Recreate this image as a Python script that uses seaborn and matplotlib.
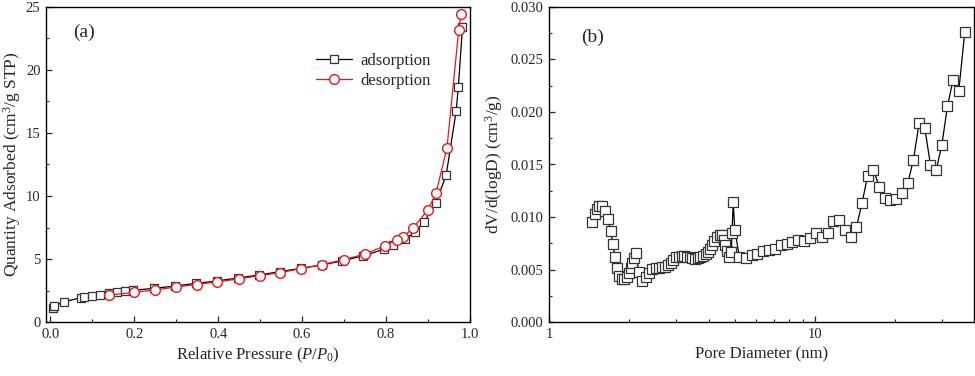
import numpy as np
import pandas as pd
import matplotlib
matplotlib.use("Agg")
import matplotlib.pyplot as plt
import seaborn as sns
from matplotlib.ticker import MultipleLocator, LogLocator, NullFormatter, FormatStrFormatter

# (a) N2 isotherm
p_ads = [0.006, 0.010, 0.034, 0.074, 0.080, 0.099, 0.118, 0.139, 0.159, 0.178, 0.198,
         0.247, 0.298, 0.348, 0.398, 0.448, 0.497, 0.547, 0.597, 0.647, 0.696, 0.744,
         0.795, 0.816, 0.845, 0.869, 0.891, 0.918, 0.943, 0.967, 0.972, 0.982]
q_ads = [1.11, 1.27, 1.62, 1.93, 1.96, 2.09, 2.17, 2.28, 2.36, 2.44, 2.52,
         2.67, 2.86, 3.07, 3.26, 3.50, 3.73, 4.00, 4.26, 4.53, 4.85, 5.24,
         5.77, 6.08, 6.57, 7.12, 7.97, 9.43, 11.63, 16.76, 18.62, 23.41]

p_des = [0.979, 0.973, 0.945, 0.919, 0.900, 0.865, 0.840, 0.825, 0.798, 0.750, 0.699,
         0.648, 0.598, 0.548, 0.499, 0.449, 0.398, 0.349, 0.300, 0.249, 0.200, 0.139]
q_des = [24.44, 23.15, 13.82, 10.22, 8.92, 7.49, 6.75, 6.51, 6.06, 5.40, 4.95,
         4.56, 4.24, 3.92, 3.68, 3.42, 3.18, 2.97, 2.78, 2.54, 2.36, 2.12]

# (b) pore size distribution
pore_d = [1.451, 1.489, 1.519, 1.546, 1.586, 1.628, 1.667, 1.705, 1.740, 1.771,
          1.806, 1.839, 1.876, 1.914, 1.959, 1.993, 2.029, 2.058, 2.089, 2.124,
          2.174, 2.243, 2.316, 2.384, 2.446, 2.518, 2.584, 2.652, 2.722, 2.793,
          2.867, 2.934, 3.002, 3.072, 3.153, 3.227, 3.302, 3.379, 3.458, 3.539,
          3.622, 3.706, 3.793, 3.881, 3.972, 4.042, 4.112, 4.183, 4.281, 4.381,
          4.483, 4.548, 4.601, 4.681, 4.735, 4.846, 4.880, 4.930, 5.000, 5.200,
          5.488, 5.780, 6.070, 6.380, 6.720, 7.070, 7.430, 7.830, 8.220, 8.660,
          9.090, 9.580, 10.09, 10.60, 11.16, 11.72, 12.31, 12.97, 13.62, 14.34,
          15.06, 15.78, 16.62, 17.46, 18.33, 19.25, 20.28, 21.30, 22.37, 23.49,
          24.68, 25.92, 27.22, 28.58, 30.02, 31.53, 33.11, 34.78, 36.64]
dv = [0.00957, 0.01026, 0.01077, 0.01109, 0.01109, 0.01058, 0.00982, 0.00868, 0.00740, 0.00617,
      0.00515, 0.00439, 0.00407, 0.00407, 0.00426, 0.00470, 0.00518, 0.00566, 0.00610, 0.00661,
      0.00474, 0.00394, 0.00432, 0.00464, 0.00505, 0.00515, 0.00518, 0.00521, 0.00528, 0.00543,
      0.00566, 0.00588, 0.00617, 0.00623, 0.00632, 0.00629, 0.00623, 0.00617, 0.00607, 0.00604,
      0.00613, 0.00620, 0.00629, 0.00645, 0.00670, 0.00699, 0.00734, 0.00775, 0.00807, 0.00829,
      0.00829, 0.00782, 0.00734, 0.00677, 0.00623, 0.00667, 0.00852, 0.01140, 0.00877, 0.00617,
      0.00607, 0.00636, 0.00651, 0.00677, 0.00686, 0.00699, 0.00731, 0.00744, 0.00760, 0.00782,
      0.00775, 0.00798, 0.00845, 0.00807, 0.00845, 0.00963, 0.00969, 0.00880, 0.00810, 0.00906,
      0.01138, 0.01386, 0.01449, 0.01290, 0.01185, 0.01163, 0.01173, 0.01233, 0.01322, 0.01545,
      0.01894, 0.01846, 0.01497, 0.01443, 0.01681, 0.02053, 0.02307, 0.02199, 0.02758]

sns.set_style("ticks")
plt.rcParams['font.family'] = ['Liberation Serif', 'DejaVu Serif']
plt.rcParams['mathtext.fontset'] = 'custom'
plt.rcParams['mathtext.rm'] = 'Liberation Serif'
plt.rcParams['mathtext.it'] = 'Liberation Serif:italic'
plt.rcParams['axes.linewidth'] = 1.0

fig = plt.figure(figsize=(9.75, 3.76), dpi=100)
ax1 = fig.add_axes([0.0472, 0.1436, 0.4349, 0.8378])
ax2 = fig.add_axes([0.5631, 0.1436, 0.4359, 0.8378])

sns.lineplot(x=p_ads, y=q_ads, ax=ax1, sort=False, estimator=None, color='black',
             linewidth=0.9, marker='s', markersize=6, markerfacecolor='white',
             markeredgecolor='#333333', markeredgewidth=0.9, label='adsorption')
sns.lineplot(x=p_des, y=q_des, ax=ax1, sort=False, estimator=None, color='#e8151b',
             linewidth=0.9, marker='o', markersize=7, markerfacecolor='white',
             markeredgecolor='#e8151b', markeredgewidth=1.0, label='desorption')

ax1.set_xlim(-0.01, 1.0)
ax1.set_ylim(0, 25)
ax1.xaxis.set_major_locator(MultipleLocator(0.2))
ax1.xaxis.set_minor_locator(MultipleLocator(0.1))
ax1.yaxis.set_major_locator(MultipleLocator(5))
ax1.yaxis.set_minor_locator(MultipleLocator(2.5))
ax1.xaxis.set_major_formatter(FormatStrFormatter('%.1f'))
ax1.set_xlabel('Relative Pressure ($P$/$P_0$)', fontsize=12)
ax1.set_ylabel('Quantity Adsorbed (cm$^3$/g STP)', fontsize=12.5, labelpad=2)
ax1.text(0.065, 0.905, '(a)', transform=ax1.transAxes, fontsize=14)
ax1.legend(loc='upper left', bbox_to_anchor=(0.62, 0.875), frameon=False, fontsize=12,
           handlelength=2.2, handletextpad=0.5, labelspacing=0.25, borderaxespad=0)

sns.lineplot(x=pore_d, y=dv, ax=ax2, sort=False, estimator=None, color='black',
             linewidth=0.9, marker='s', markersize=6.5, markerfacecolor='white',
             markeredgecolor='#333333', markeredgewidth=0.9)
ax2.set_xscale('log')
ax2.set_xlim(1, 39.7)
ax2.set_ylim(0, 0.030)
ax2.xaxis.set_major_locator(LogLocator(base=10))
ax2.xaxis.set_minor_locator(LogLocator(base=10, subs=np.arange(2, 10)))
ax2.xaxis.set_minor_formatter(NullFormatter())
ax2.xaxis.set_major_formatter(FormatStrFormatter('%g'))
ax2.yaxis.set_major_locator(MultipleLocator(0.005))
ax2.yaxis.set_minor_locator(MultipleLocator(0.0025))
ax2.yaxis.set_major_formatter(FormatStrFormatter('%.3f'))
ax2.set_xlabel('Pore Diameter (nm)', fontsize=12)
ax2.set_ylabel('dV/d(logD) (cm$^3$/g)', fontsize=12.5, labelpad=4)
ax2.text(0.075, 0.89, '(b)', transform=ax2.transAxes, fontsize=14)

for ax in (ax1, ax2):
    for s in ax.spines.values():
        s.set_visible(True)
        s.set_color('black')
    ax.tick_params(which='major', direction='in', length=4, width=0.9, labelsize=10.5,
                   top=False, right=False, pad=4)
    ax.tick_params(which='minor', direction='in', length=2.5, width=0.8,
                   top=False, right=False)

fig.savefig('out.png', dpi=100)
